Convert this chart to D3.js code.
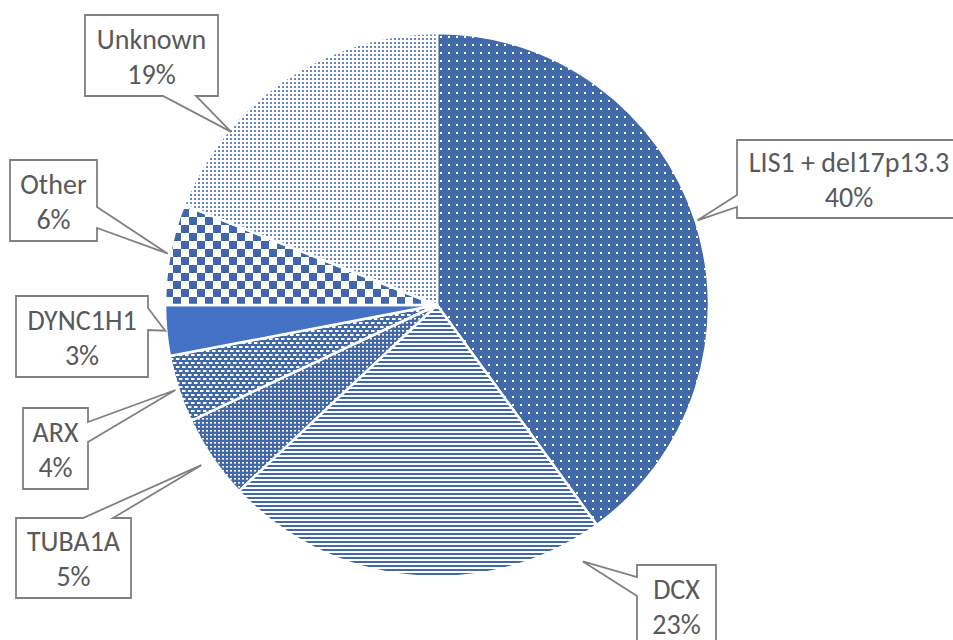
<!DOCTYPE html>
<html>
<head>
<meta charset="utf-8">
<script src="https://cdn.jsdelivr.net/npm/d3@7"></script>
<style>
  html, body { margin: 0; padding: 0; background: #fff; }
  svg { display: block; }
</style>
</head>
<body>
<svg id="chart" width="953" height="640"></svg>
<script>
// Causes of lissencephaly: share of cases by gene
const categories = ["LIS1 + del17p13.3", "DCX", "TUBA1A", "ARX", "DYNC1H1", "Other", "Unknown"];
const shares = [40, 23, 5, 4, 3, 6, 19];
const percentLabels = ["40%", "23%", "5%", "4%", "3%", "6%", "19%"];

const W = 953, H = 640;
const cx = 437, cy = 305, R = 272;
const blue = "#4169a9";
const solidBlue = "#4472c4";

const svg = d3.select("#chart");
const defs = svg.append("defs");

// Fill patterns, one per slice
function tile(id, w, h, bg, draw) {
  const p = defs.append("pattern")
    .attr("id", id).attr("patternUnits", "userSpaceOnUse")
    .attr("width", w).attr("height", h);
  p.append("rect").attr("width", w).attr("height", h).attr("fill", bg);
  draw(p);
}
// small white dots on blue
tile("pLis", 8, 8, blue, p => {
  p.append("rect").attr("x", 3).attr("y", 3).attr("width", 2).attr("height", 2).attr("fill", "#fff");
});
// narrow horizontal stripes
tile("pDcx", 4, 4, "#fff", p => {
  p.append("rect").attr("x", 0).attr("y", 0).attr("width", 4).attr("height", 2).attr("fill", blue);
});
// fine grid of white dots
tile("pTuba", 4, 4, blue, p => {
  p.append("rect").attr("x", 1).attr("y", 1).attr("width", 2).attr("height", 1.6).attr("fill", "#fff");
});
// staggered white dashes
tile("pArx", 6, 8, blue, p => {
  p.append("rect").attr("x", 0).attr("y", 1).attr("width", 3.5).attr("height", 2).attr("fill", "#fff");
  p.append("rect").attr("x", 3).attr("y", 5).attr("width", 3).attr("height", 2).attr("fill", "#fff");
  p.append("rect").attr("x", 0).attr("y", 5).attr("width", 0.5).attr("height", 2).attr("fill", "#fff");
});
// large checkerboard
tile("pOther", 16, 16, "#fff", p => {
  p.append("rect").attr("x", 0).attr("y", 0).attr("width", 8).attr("height", 8).attr("fill", blue);
  p.append("rect").attr("x", 8).attr("y", 8).attr("width", 8).attr("height", 8).attr("fill", blue);
});
// light dotted
tile("pUnknown", 4, 4, "#fff", p => {
  p.append("rect").attr("x", 1).attr("y", 1).attr("width", 2).attr("height", 2)
    .attr("fill", blue).attr("opacity", 0.8);
});

const fills = ["url(#pLis)", "url(#pDcx)", "url(#pTuba)", "url(#pArx)", solidBlue, "url(#pOther)", "url(#pUnknown)"];

const pie = d3.pie().sort(null).value(d => d).startAngle(0).endAngle(2 * Math.PI);
const arcs = pie(shares);
const arc = d3.arc().innerRadius(0).outerRadius(R);

const g = svg.append("g").attr("transform", `translate(${cx},${cy})`);
g.selectAll("path.slice")
  .data(arcs)
  .join("path")
  .attr("class", "slice")
  .attr("d", arc)
  .attr("fill", (d, i) => fills[i])
  .attr("stroke", "#fff")
  .attr("stroke-width", 2.5)
  .attr("stroke-linejoin", "round");

// Callout placement: box edges, the side carrying the pointer, notch span,
// and where along the slice (fraction of its angle, radial offset) the pointer ends
const callouts = [
  { box: [737, 140, 961, 218], side: "left",   notch: [195, 207], frac: 0.5,   off: 2 },
  { box: [637, 565, 716, 646], side: "left",   notch: [577, 596], frac: 0.077, off: 23 },
  { box: [16, 518, 131, 598],  side: "top",    notch: [83, 113],  frac: 0.5,   off: 13 },
  { box: [23, 408, 88, 489],   side: "right",  notch: [422, 442], frac: 0.5,   off: 3 },
  { box: [16, 296, 148, 377],  side: "right",  notch: [308, 330], frac: 0.5,   off: 1 },
  { box: [10, 160, 97, 241],   side: "right",  notch: [207, 228], frac: 0.5,   off: 2 },
  { box: [85, 15, 218, 96],    side: "bottom", notch: [163, 196], frac: 0.27,  off: -3 }
];

function tipPoint(a, c) {
  const ang = a.startAngle + c.frac * (a.endAngle - a.startAngle);
  const r = R + c.off;
  return [cx + r * Math.sin(ang), cy - r * Math.cos(ang)];
}

function calloutPath(c, tip) {
  const [x0, y0, x1, y1] = c.box;
  const [a, b] = c.notch;
  const p = d3.path();
  p.moveTo(x0, y0);
  if (c.side === "top") { p.lineTo(a, y0); p.lineTo(tip[0], tip[1]); p.lineTo(b, y0); }
  p.lineTo(x1, y0);
  if (c.side === "right") { p.lineTo(x1, a); p.lineTo(tip[0], tip[1]); p.lineTo(x1, b); }
  p.lineTo(x1, y1);
  if (c.side === "bottom") { p.lineTo(b, y1); p.lineTo(tip[0], tip[1]); p.lineTo(a, y1); }
  p.lineTo(x0, y1);
  if (c.side === "left") { p.lineTo(x0, b); p.lineTo(tip[0], tip[1]); p.lineTo(x0, a); }
  p.closePath();
  return p.toString();
}

const labels = svg.append("g").attr("class", "labels");
arcs.forEach((a, i) => {
  const c = callouts[i];
  const tip = tipPoint(a, c);
  const lg = labels.append("g");
  lg.append("path")
    .attr("d", calloutPath(c, tip))
    .attr("fill", "#fff")
    .attr("stroke", "#808080")
    .attr("stroke-width", 1.8)
    .attr("stroke-linejoin", "miter");
  const [x0, y0, x1, y1] = c.box;
  const mx = (x0 + x1) / 2, my = (y0 + y1) / 2;
  const t = lg.append("text")
    .attr("text-anchor", "middle")
    .attr("fill", "#595959")
    .attr("font-family", "Carlito, Lato, 'Open Sans', sans-serif")
    .attr("font-size", 28);
  t.append("tspan").attr("x", mx).attr("y", my - 17 + 10).text(categories[i]);
  t.append("tspan").attr("x", mx).attr("y", my + 18 + 10).text(percentLabels[i]);
});
</script>
</body>
</html>
